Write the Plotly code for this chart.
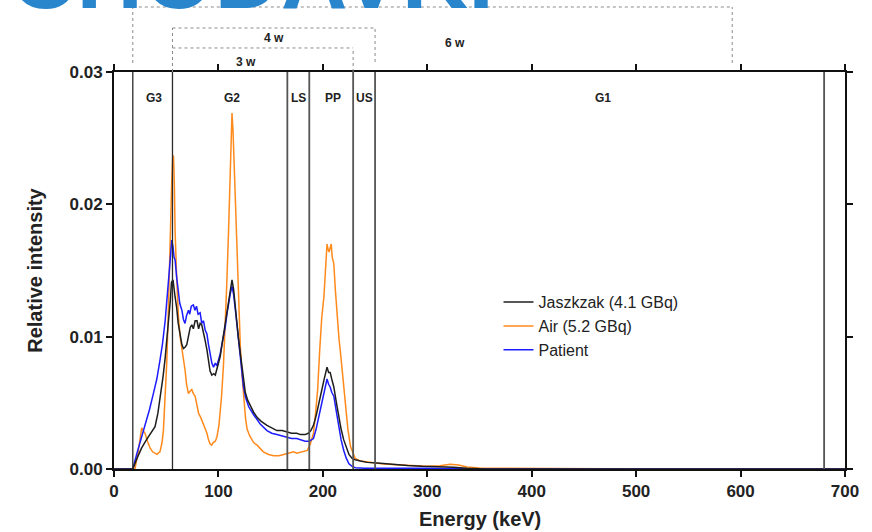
import plotly.graph_objects as go

# ---------------- data ----------------
jas_E = [0, 18, 22, 26.5, 31, 34.5, 39.3, 42, 44, 47, 49, 51, 52.5, 54, 55, 56.5, 58.5, 60, 61.5, 63.3, 65,
         66.5, 68, 69.7, 71.3, 73, 74.5, 76, 77.7, 79.5, 81, 82.5, 84, 86, 87.3, 89, 90.5, 92, 93.7, 95.5,
         97, 98.5, 100, 101.7, 104, 106.5, 108.3, 110, 111.5, 113, 114.5, 116, 117.5, 119.3, 121, 122.5,
         124, 125.7, 128, 130.5, 133.7, 137, 141, 146.5, 151, 156, 161, 165.7, 170, 175, 178.5, 183, 186,
         188.5, 191, 193.5, 196, 198.5, 201, 202.5, 204, 205.5, 207, 208.5, 210.5, 213, 215, 217.5, 220,
         222.5, 225, 228, 231, 236, 242.5, 255, 271, 281, 295, 313, 325, 338, 355, 700]
jas_I = [0, 0, 0.0008, 0.0016, 0.0022, 0.0026, 0.0032, 0.0042, 0.0052, 0.0070, 0.0084, 0.0100, 0.0112,
         0.0128, 0.0141, 0.0143, 0.0130, 0.0122, 0.0110, 0.0100, 0.0094, 0.0091, 0.0092, 0.0094, 0.0100,
         0.0107, 0.0109, 0.0106, 0.0112, 0.0112, 0.0106, 0.0110, 0.0109, 0.0103, 0.0097, 0.0090, 0.0080,
         0.0074, 0.0071, 0.0072, 0.0071, 0.0075, 0.0080, 0.0085, 0.0097, 0.0110, 0.0120, 0.0130, 0.0137,
         0.0143, 0.0136, 0.0126, 0.0112, 0.0098, 0.0087, 0.0076, 0.0067, 0.0058, 0.0052, 0.0048, 0.0043,
         0.0039, 0.0036, 0.0033, 0.0031, 0.0029, 0.0029, 0.0028, 0.0027, 0.0027, 0.0026, 0.0026, 0.0027,
         0.0029, 0.0033, 0.0040, 0.0050, 0.0058, 0.0067, 0.0073, 0.0077, 0.0073, 0.0073, 0.0068, 0.0062,
         0.0050, 0.0040, 0.0030, 0.0022, 0.0016, 0.0011, 0.0008, 0.0007, 0.0006, 0.0005, 0.00043, 0.0003,
         0.00026, 0.0002, 0.00017, 0.00014, 0.00005, 0, 0]

air_E = [0, 20, 23, 25, 26.5, 28, 29.7, 32, 34.5, 37, 41, 44, 46, 47.3, 49, 50.5, 52, 53, 54.3, 55.3, 56.3,
         57, 57.8, 58.5, 60, 61.7, 63.3, 65, 66.5, 68, 69.5, 71.3, 73, 74.5, 76, 77.7, 79.5, 81, 83, 85.7,
         87.5, 89, 90.5, 92, 93.5, 95, 97, 98.5, 100.5, 103, 104.8, 106.5, 108, 109.7, 111, 112, 113, 114,
         115, 116.3, 117.7, 119.3, 121, 122.5, 124, 126, 127.5, 130, 133.7, 137, 143, 148, 153, 158, 162.5,
         168, 172, 175, 179, 185, 188, 191, 193, 195, 197, 199, 201, 202.5, 204, 205, 206, 207, 208, 209,
         210.5, 212, 213.7, 215.5, 217, 219.5, 221.7, 224, 226.5, 229, 231, 236, 245, 256, 270, 285, 300,
         312, 322, 330, 338, 350, 380, 420, 470, 500, 700]
air_I = [0, 0, 0.0012, 0.0025, 0.0031, 0.0029, 0.0027, 0.0021, 0.0016, 0.0013, 0.0011, 0.0013, 0.0020,
         0.0029, 0.0052, 0.0080, 0.0118, 0.0155, 0.0190, 0.0218, 0.0237, 0.0236, 0.0215, 0.0180, 0.0145,
         0.0115, 0.0100, 0.0092, 0.0082, 0.0075, 0.0064, 0.0057, 0.0059, 0.0060, 0.0057, 0.0055, 0.0048,
         0.0042, 0.0039, 0.0034, 0.0030, 0.0027, 0.0022, 0.0019, 0.0018, 0.0020, 0.0021, 0.0024, 0.0033,
         0.0055, 0.0078, 0.0105, 0.0140, 0.0180, 0.0215, 0.0243, 0.0269, 0.0255, 0.0231, 0.0195, 0.0155,
         0.0120, 0.0092, 0.0072, 0.0055, 0.0038, 0.0030, 0.0025, 0.0020, 0.0018, 0.0013, 0.0011, 0.0010,
         0.0010, 0.0011, 0.0012, 0.0013, 0.0012, 0.0013, 0.0014, 0.0019, 0.0027, 0.0042, 0.0060, 0.0090,
         0.0115, 0.0130, 0.0150, 0.0170, 0.0166, 0.0164, 0.0167, 0.0170, 0.0160, 0.0155, 0.0135, 0.0115,
         0.0098, 0.0087, 0.0065, 0.0050, 0.0030, 0.0017, 0.0011, 0.0008, 0.0006, 0.0005, 0.0004, 0.00033,
         0.00025, 0.0002, 0.00025, 0.00035, 0.0003, 0.00015, 0.00008, 0.00005, 0.00004, 0.00002, 0, 0]

pat_E = [0, 18, 22, 26.5, 29, 31.3, 34, 37.7, 41, 44, 46.5, 49, 50.5, 52, 53.5, 55.3, 56.5, 57.5, 58.5, 60,
         61.7, 63, 65, 66.5, 68, 69.5, 71.3, 72.5, 74, 76, 77.5, 79, 80.5, 82.5, 84, 85.7, 87.3, 89, 90.5,
         92, 93.7, 95.3, 97, 98.5, 100, 101.7, 104, 106.5, 108.3, 110, 111.5, 113, 114.5, 116, 117.7, 119.3,
         121, 122.5, 124, 126, 129, 133.7, 140, 146.5, 151, 156, 161, 165.7, 170, 175, 179, 183, 187, 191,
         193.5, 196, 198.5, 201, 202.5, 204, 205.5, 207, 208.5, 210.5, 213, 215, 217.5, 220, 222.5, 225,
         228, 231, 240, 300, 330, 345, 700]
pat_I = [0, 0, 0.0012, 0.0024, 0.0030, 0.0037, 0.0045, 0.0057, 0.0068, 0.0082, 0.0095, 0.0112, 0.0125,
         0.0138, 0.0155, 0.0173, 0.0168, 0.0160, 0.0158, 0.0145, 0.0133, 0.0125, 0.0120, 0.0113, 0.0110,
         0.0116, 0.0120, 0.0117, 0.0123, 0.0124, 0.0120, 0.0123, 0.0117, 0.0118, 0.0110, 0.0112, 0.0105,
         0.0102, 0.0094, 0.0087, 0.0080, 0.0077, 0.0080, 0.0078, 0.0082, 0.0087, 0.0097, 0.0107, 0.0118,
         0.0128, 0.0133, 0.0138, 0.0132, 0.0122, 0.0110, 0.0097, 0.0085, 0.0072, 0.0062, 0.0054, 0.0047,
         0.0041, 0.0034, 0.0029, 0.0027, 0.0026, 0.0025, 0.0024, 0.0023, 0.0023, 0.0022, 0.0021, 0.0021,
         0.0023, 0.0030, 0.0039, 0.0048, 0.0057, 0.0063, 0.0068, 0.0064, 0.0062, 0.0058, 0.0055, 0.0043,
         0.0032, 0.0022, 0.0014, 0.0008, 0.0004, 0.0002, 0.0001, 0.00006, 0.00005, 0.00003, 0, 0]

series_names = ["Jaszkzak (4.1 GBq)", "Air (5.2 GBq)", "Patient"]
series_colors = ["#1e1e1e", "#ff8a1c", "#1c1cff"]

region_edges = [18, 56, 166, 187, 229, 250, 680]
region_labels = ["G3", "G2", "LS", "PP", "US", "G1"]
region_label_x = [38, 113, 177, 210, 240, 468]

window_names = ["6 w", "4 w", "3 w"]
window_lo = [18, 56, 56]
window_hi = [592, 250, 229]
window_label_x = [327, 153, 126]

x_ticks = [0, 100, 200, 300, 400, 500, 600, 700]
y_ticks = [0.00, 0.01, 0.02, 0.03]

banner_text = "CHODAVKI"

FONT = "Liberation Sans, Arial, sans-serif"

fig = go.Figure()
traces = [(air_E, air_I, 1), (pat_E, pat_I, 2), (jas_E, jas_I, 0)]
for E, I, k in traces:
    fig.add_trace(go.Scatter(x=E, y=I, mode="lines", name=series_names[k], legendrank=k + 1,
                             line=dict(color=series_colors[k], width=1.5)))

shapes = []
for i, e in enumerate(region_edges):
    dark = i < 2
    shapes.append(dict(type="line", xref="x", yref="paper", x0=e, x1=e, y0=0, y1=1,
                       line=dict(color="#2a2a2a" if dark else "#555555", width=1.3 if dark else 1.8),
                       layer="above"))

# bracket heights in paper coords (top, bottom-left, bottom-right)
br_top = [1.1637, 1.1108, 1.0605]
br_left_bot = [1.0227, 1.0, 1.0]
br_right_bot = [1.0227, 1.0252, 1.0]
label_y = [1.073, 1.0856, 1.025]
for k in range(3):
    dl = dict(color="#8a8a8a", width=1, dash="dot")
    shapes.append(dict(type="line", xref="x", yref="paper", x0=window_lo[k], x1=window_lo[k],
                       y0=br_left_bot[k], y1=br_top[k], line=dl))
    shapes.append(dict(type="line", xref="x", yref="paper", x0=window_lo[k], x1=window_hi[k],
                       y0=br_top[k], y1=br_top[k], line=dl))
    shapes.append(dict(type="line", xref="x", yref="paper", x0=window_hi[k], x1=window_hi[k],
                       y0=br_right_bot[k], y1=br_top[k], line=dl))

annotations = []
for lab, xx in zip(region_labels, region_label_x):
    annotations.append(dict(text="<b>%s</b>" % lab, x=xx, y=0.9345, xref="x", yref="paper",
                            showarrow=False, font=dict(family=FONT, size=12, color="#222"),
                            xanchor="center", yanchor="middle"))
for k in range(3):
    annotations.append(dict(text="<b>%s</b>" % window_names[k], x=window_label_x[k], y=label_y[k],
                            xref="x", yref="paper", showarrow=False,
                            font=dict(family=FONT, size=12, color="#222"),
                            xanchor="center", yanchor="middle"))
# x-axis title placed directly
annotations.append(dict(text="<b>Energy (keV)</b>", x=0.5, y=-0.126, xref="paper", yref="paper",
                        showarrow=False, xanchor="center", yanchor="middle",
                        font=dict(family=FONT, size=20, color="#222")))
# large, mostly cropped banner text at the very top
annotations.append(dict(text="<b>%s</b>" % banner_text, x=-0.145, y=1.108, xref="paper", yref="paper",
                        showarrow=False, xanchor="left", yanchor="bottom",
                        font=dict(family=FONT, size=92, color="#2a86cc")))

fig.update_layout(
    width=872, height=532,
    margin=dict(l=114, r=27, t=72, b=63),
    paper_bgcolor="white", plot_bgcolor="white",
    font=dict(family=FONT, color="#222"),
    shapes=shapes, annotations=annotations,
    showlegend=True,
    legend=dict(x=0.526, y=0.463, xanchor="left", yanchor="top",
                font=dict(family=FONT, size=16, color="#222"),
                bgcolor="rgba(0,0,0,0)", traceorder="normal", tracegroupgap=0),
)
fig.update_xaxes(range=[0, 700], tickvals=x_ticks, ticktext=[str(v) for v in x_ticks],
                 showgrid=False, zeroline=False, showline=True, linecolor="#111", linewidth=2,
                 mirror="ticks", ticks="outside", ticklen=6, tickwidth=2, tickcolor="#111",
                 tickfont=dict(family=FONT, size=17, color="#222", weight="bold"))
fig.update_yaxes(range=[0, 0.03], tickvals=y_ticks, ticktext=["%.2f" % v for v in y_ticks],
                 showgrid=False, zeroline=False, showline=True, linecolor="#111", linewidth=2,
                 mirror="ticks", ticks="outside", ticklen=6, tickwidth=2, tickcolor="#111",
                 tickfont=dict(family=FONT, size=17, color="#222", weight="bold"),
                 title=dict(text="<b>Relative intensity</b>", font=dict(family=FONT, size=20, color="#222"),
                            standoff=22))

fig.write_html("out.html")
